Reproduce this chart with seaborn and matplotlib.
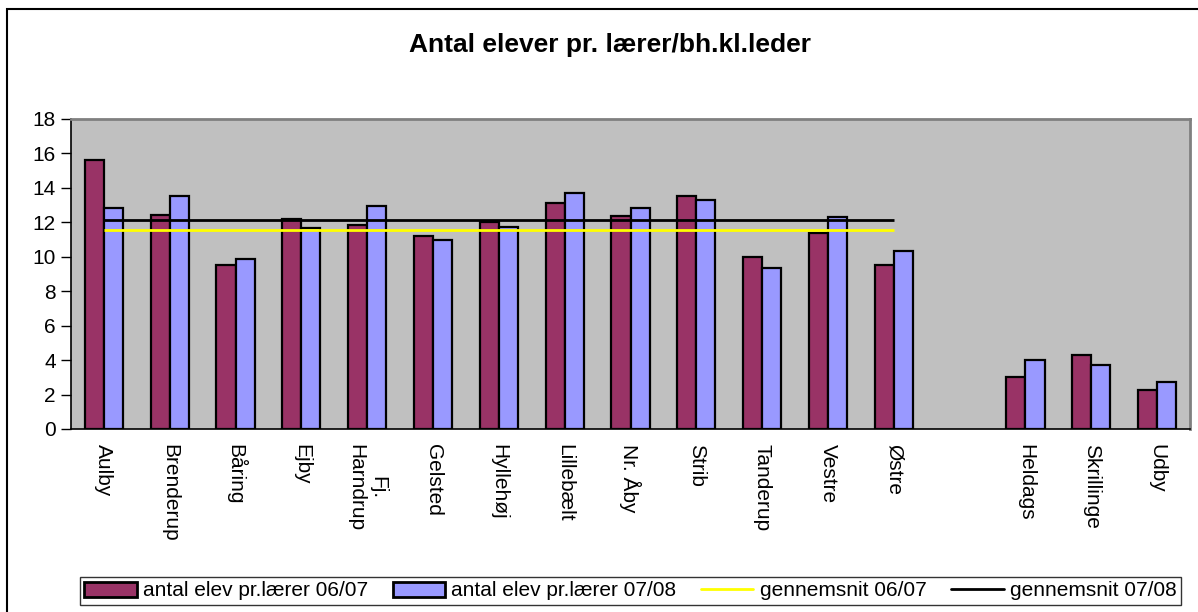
import matplotlib
matplotlib.use("Agg")
import matplotlib.pyplot as plt
from matplotlib.patches import Rectangle, Patch
from matplotlib.lines import Line2D
import seaborn as sns
import pandas as pd

sns.set_style("white")
plt.rcParams['font.family'] = ['Liberation Sans', 'DejaVu Sans']
plt.rcParams['text.color'] = 'black'
plt.rcParams['xtick.color'] = 'black'
plt.rcParams['ytick.color'] = 'black'
plt.rcParams['axes.labelcolor'] = 'black'

schools_main = ["Aulby", "Brenderup", "Båring", "Ejby", "Fj.\nHarndrup", "Gelsted",
                "Hyllehøj", "Lillebælt", "Nr. Åby", "Strib", "Tanderup", "Vestre", "Østre"]
schools_other = ["Heldags", "Skrillinge", "Udby"]
gap_label = " "
order = schools_main + [gap_label] + schools_other

vals_0607 = [15.6, 12.4, 9.5, 12.2, 11.85, 11.2, 12.0, 13.12, 12.35, 13.55, 10.0, 11.38, 9.52,
             3.0, 4.3, 2.25]
vals_0708 = [12.83, 13.55, 9.85, 11.69, 12.95, 10.95, 11.75, 13.72, 12.85, 13.28, 9.35, 12.33, 10.34,
             4.0, 3.73, 2.74]
series = ["antal elev pr.lærer 06/07", "antal elev pr.lærer 07/08"]
avg_labels = ["gennemsnit 06/07", "gennemsnit 07/08"]
avg_vals = [11.56, 12.14]

colors = ["#993366", "#9999FF"]
avg_colors = ["#FFFF00", "#000000"]

names = schools_main + schools_other
df = pd.DataFrame({
    "school": names * 2,
    "value": vals_0607 + vals_0708,
    "series": [series[0]] * len(names) + [series[1]] * len(names),
})

W, H = 1198, 612
fig = plt.figure(figsize=(W / 100, H / 100), dpi=100)
left, right, top, bottom = 71, 1190, 119, 429
ax = fig.add_axes([left / W, 1 - bottom / H, (right - left) / W, (bottom - top) / H])
ax.set_facecolor("#C0C0C0")

sns.barplot(data=df, x="school", y="value", hue="series", order=order, hue_order=series,
            palette=colors, saturation=1, width=0.58, edgecolor="black", linewidth=1.6,
            errorbar=None, legend=False, ax=ax, zorder=2)

n_main = len(schools_main)
for v, c in zip(avg_vals, avg_colors):
    ax.hlines(v, 0, n_main - 1, colors=c, linewidth=2.0, zorder=3)

ax.set_xlim(-0.5, len(order) - 0.5)
ax.set_ylim(0, 18)
ax.set_yticks(range(0, 19, 2))
ax.set_xlabel("")
ax.set_ylabel("")

ax.set_xticks(range(len(order)))
ax.set_xticklabels(order, rotation=-90, ha="center", va="top", fontsize=15,
                   multialignment="center")
ax.set_xticks([i - 0.5 for i in range(len(order) + 1)], minor=True)
ax.tick_params(axis="x", which="major", length=0, pad=11)
ax.tick_params(axis="x", which="minor", length=7, width=1, color="black", direction="out")
ax.tick_params(axis="y", length=7, width=1, color="black", direction="out", labelsize=15, pad=4)
ax.tick_params(axis="both", bottom=True, left=True)

for s in ["left", "bottom"]:
    ax.spines[s].set_color("black")
    ax.spines[s].set_linewidth(1.2)
for s in ["top", "right"]:
    ax.spines[s].set_color("#808080")
    ax.spines[s].set_linewidth(2)
    ax.spines[s].set_visible(True)

fig.text(0.509, 1 - 45 / H, "Antal elever pr. lærer/bh.kl.leder", ha="center", va="center",
         fontsize=19, fontweight="bold", color="black")

handles = [Patch(facecolor=colors[0], edgecolor="black", linewidth=2, label=series[0]),
           Patch(facecolor=colors[1], edgecolor="black", linewidth=2, label=series[1]),
           Line2D([], [], color=avg_colors[0], linewidth=2, label=avg_labels[0]),
           Line2D([], [], color=avg_colors[1], linewidth=2, label=avg_labels[1])]
leg = fig.legend(handles=handles, ncol=4, loc="center",
                 bbox_to_anchor=((83 + 1178) / 2 / W, 1 - 591 / H),
                 fontsize=15, frameon=True, fancybox=False, edgecolor="black",
                 handlelength=2.5, handleheight=0.75, handletextpad=0.3, columnspacing=1.2,
                 borderpad=0.2, borderaxespad=0)
leg.get_frame().set_linewidth(1.0)

fig.patches.append(Rectangle((7 / W, -0.05), 1.1, 1 - 9 / H + 0.05, transform=fig.transFigure,
                             fill=False, edgecolor="black", linewidth=1.5))

fig.savefig("out.png", dpi=100)
